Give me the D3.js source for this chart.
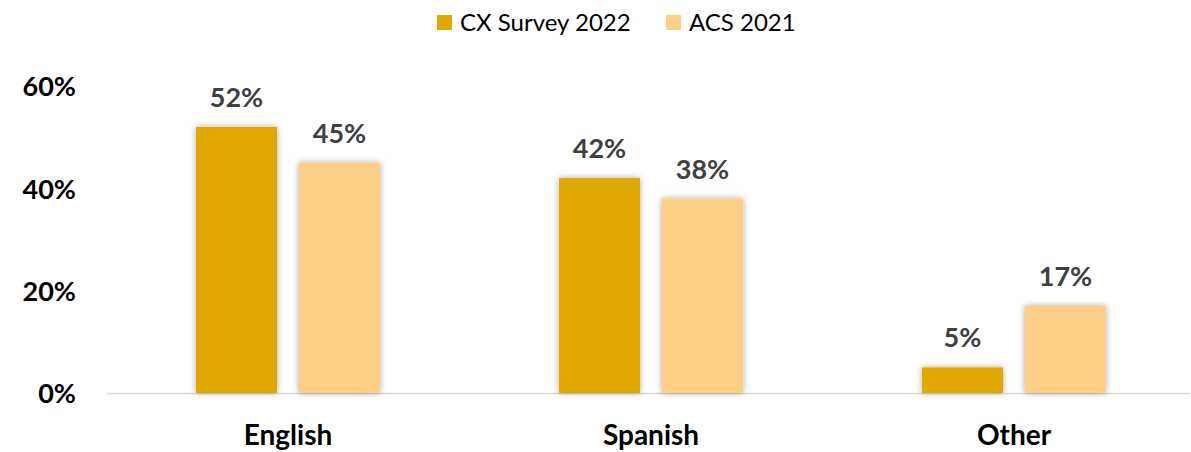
<!DOCTYPE html>
<html><head><meta charset="utf-8">
<script src="https://cdn.jsdelivr.net/npm/d3@7"></script>
<style>body{margin:0;background:#fff;} svg{display:block;}</style>
</head><body>
<svg id="c" width="1191" height="452"></svg>
<script>
const categories = ["English", "Spanish", "Other"];
const seriesNames = ["CX Survey 2022", "ACS 2021"];
const cxSurvey2022 = [0.52, 0.42, 0.05];
const acs2021 = [0.45, 0.38, 0.17];
const yTicks = [0, 0.2, 0.4, 0.6];
const colors = ["#E0A800", "#FECF86"];

const svg = d3.select("#c");
const font = "Lato, 'Open Sans', sans-serif";

const defs = svg.append("defs");
const f = defs.append("filter").attr("id","sh").attr("x","-20%").attr("y","-20%").attr("width","140%").attr("height","140%");
f.append("feDropShadow").attr("dx",0).attr("dy",0).attr("stdDeviation",3).attr("flood-color","#000").attr("flood-opacity",0.35);

const y = d3.scaleLinear().domain([0, 0.6]).range([393, 86]);
const x0 = d3.scaleBand().domain(categories).range([106.5, 1195.5]).paddingInner(0.493).paddingOuter(0.2465);
const x1 = d3.scaleBand().domain(seriesNames).range([0, x0.bandwidth()]).paddingInner(0.2136);

const data = categories.map((c, i) => ({cat: c, vals: [cxSurvey2022[i], acs2021[i]]}));

// y axis labels
const yAxis = d3.axisLeft(y).tickValues(yTicks).tickFormat(d3.format(".0%")).tickSize(0).tickPadding(0);
const ya = svg.append("g").attr("transform","translate(76,0)").call(yAxis);
ya.select(".domain").remove();
ya.selectAll("text").attr("font-family", font).attr("font-weight","bold").attr("font-size",27).attr("fill","#000").attr("dy","0.36em");

// baseline
svg.append("line").attr("x1",107).attr("x2",1190).attr("y1",y(0)+0.5).attr("y2",y(0)+0.5).attr("stroke","#d9d9d9").attr("stroke-width",1.5);

// bars
const g = svg.append("g").selectAll("g").data(data).join("g").attr("transform", d => `translate(${x0(d.cat)},0)`);
g.selectAll("rect").data(d => d.vals.map((v,j)=>({s: seriesNames[j], v, j}))).join("rect")
  .attr("x", d => x1(d.s)).attr("width", x1.bandwidth())
  .attr("y", d => y(d.v)).attr("height", d => y(0) - y(d.v))
  .attr("fill", d => colors[d.j]).attr("filter","url(#sh)");
g.selectAll("text.lbl").data(d => d.vals.map((v,j)=>({s: seriesNames[j], v, j}))).join("text").attr("class","lbl")
  .attr("x", d => x1(d.s) + x1.bandwidth()/2).attr("y", d => y(d.v) - 20)
  .attr("text-anchor","middle").attr("font-family", font).attr("font-weight","bold").attr("font-size",27).attr("fill","#404040")
  .text(d => d3.format(".0%")(d.v));

// x axis labels
const xAxis = d3.axisBottom(x0).tickSize(0).tickPadding(0);
const xa = svg.append("g").attr("transform","translate(0,445)").call(xAxis);
xa.select(".domain").remove();
xa.selectAll("text").attr("font-family", font).attr("font-weight","bold").attr("font-size",28).attr("fill","#000").attr("dy","0");

// legend
const legend = svg.append("g");
const legX = [437, 666];
seriesNames.forEach((s, i) => {
  legend.append("rect").attr("x", legX[i]).attr("y", 15).attr("width", 15).attr("height", 15).attr("fill", colors[i]);
  legend.append("text").attr("x", legX[i] + 23).attr("y", 31).attr("font-family", font).attr("font-size", 24).attr("fill","#000").text(s);
});
</script>
</body></html>
